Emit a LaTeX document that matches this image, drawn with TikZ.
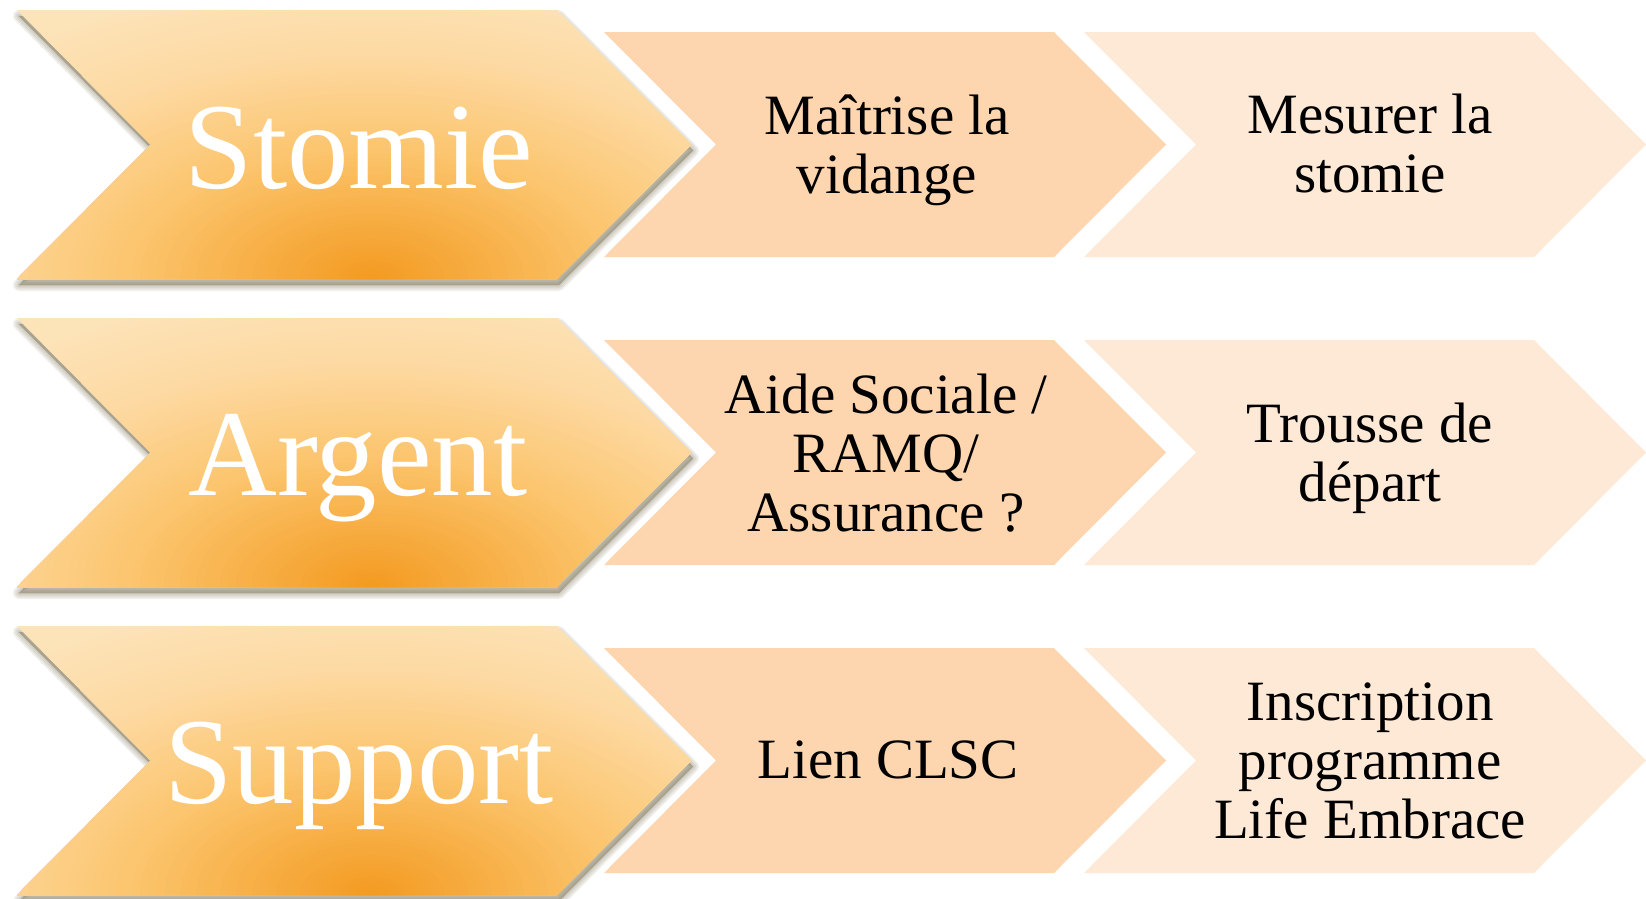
\documentclass[tikz,border=0pt]{standalone}
\usepackage{fontspec}
\setmainfont{Liberation Serif}
\definecolor{glowA}{HTML}{F39A20}
\definecolor{glowB}{HTML}{F7AD42}
\definecolor{glowC}{HTML}{FCC670}
\definecolor{glowD}{HTML}{FDD9A2}
\definecolor{glowE}{HTML}{FDE3B8}
\definecolor{peach}{HTML}{FDD5AF}
\definecolor{cream}{HTML}{FEE9D6}
\definecolor{shade}{HTML}{6E6240}
% colour of the glow at relative distance #1 (0 = hot centre, 1 = pale rim)
\newcommand{\setglow}[1]{%
  \pgfmathsetmacro{\gf}{#1}%
  \ifdim\gf pt>0.75pt
    \pgfmathsetmacro{\gp}{(\gf-0.75)/0.25*100}\colorlet{gc}{glowE!\gp!glowD}%
  \else\ifdim\gf pt>0.45pt
    \pgfmathsetmacro{\gp}{(\gf-0.45)/0.3*100}\colorlet{gc}{glowD!\gp!glowC}%
  \else\ifdim\gf pt>0.2pt
    \pgfmathsetmacro{\gp}{(\gf-0.2)/0.25*100}\colorlet{gc}{glowC!\gp!glowB}%
  \else
    \pgfmathsetmacro{\gp}{\gf/0.2*100}\colorlet{gc}{glowB!\gp!glowA}%
  \fi\fi\fi}
\begin{document}
\begin{tikzpicture}[x=1pt,y=-1pt,
  bigtext/.style={font=\fontsize{123}{130}\selectfont, text=white, inner sep=0pt, anchor=base},
  steptext/.style={font=\fontsize{57}{59}\selectfont, text=black, align=center, inner sep=0pt},
  shadowlayer/.style={fill=shade, draw=shade, line join=round, opacity=0.09}]
\useasboundingbox (0,0) rectangle (1646,898);
\fill[white] (0,0) rectangle (1646,898);

% big chevron: #1 = top edge
\newcommand{\bigchev}[1]{%
  (17,#1) -- (557,#1) -- (691,#1+134.5) -- (557,#1+269) -- (17,#1+269) -- (151,#1+134.5) -- cycle}
% step chevron: #1 = left x, #2 = top edge
\newcommand{\stepchev}[2]{%
  (#1,#2) -- (#1+450,#2) -- (#1+562,#2+112.5) -- (#1+450,#2+225) -- (#1,#2+225) -- (#1+112,#2+112.5) -- cycle}

\foreach \r in {0,1,2} {
  \pgfmathsetmacro{\T}{10+308*\r}
  \pgfmathsetmacro{\t}{32+308*\r}
  % soft drop shadow
  \begin{scope}[shift={(2,6)}]
    \foreach \w in {12,9,6,3,0.5}
      \path[shadowlayer, line width=\w pt] \bigchev{\T};
  \end{scope}
  % glowing leading chevron: pale base, then nested ellipses towards the hot spot
  \begin{scope}
    \clip \bigchev{\T};
    \fill[glowE] \bigchev{\T};
    \foreach \i in {0,...,69} {
      \pgfmathsetmacro{\ff}{1-\i/70}
      \setglow{\ff}
      \fill[gc] (372,\T+268) ellipse [x radius=\ff*560pt, y radius=\ff*300pt];
    }
  \end{scope}
  % following steps
  \fill[peach] \stepchev{604}{\t};
  \fill[cream] \stepchev{1084}{\t};
}

% row labels
\node[bigtext] (stomie)  at (359,188) {Stomie};
\node[bigtext] (argent)  at (358,495) {Argent};
\node[bigtext] (support) at (359,803) {Support};

% step labels
\node[steptext] (vidange)   at (887,150) {Maîtrise la\\vidange};
\node[steptext] (mesurer)   at (1370,143) {Mesurer la\\stomie};
\node[steptext] (aide)      at (886,453) {Aide Sociale /\\RAMQ/\\Assurance ?};
\node[steptext] (trousse)   at (1370,458) {Trousse de\\départ};
\node[steptext] (clsc)      at (888,760) {Lien CLSC};
\node[steptext] (life)      at (1370,761) {Inscription\\programme\\Life Embrace};
\end{tikzpicture}
\end{document}
